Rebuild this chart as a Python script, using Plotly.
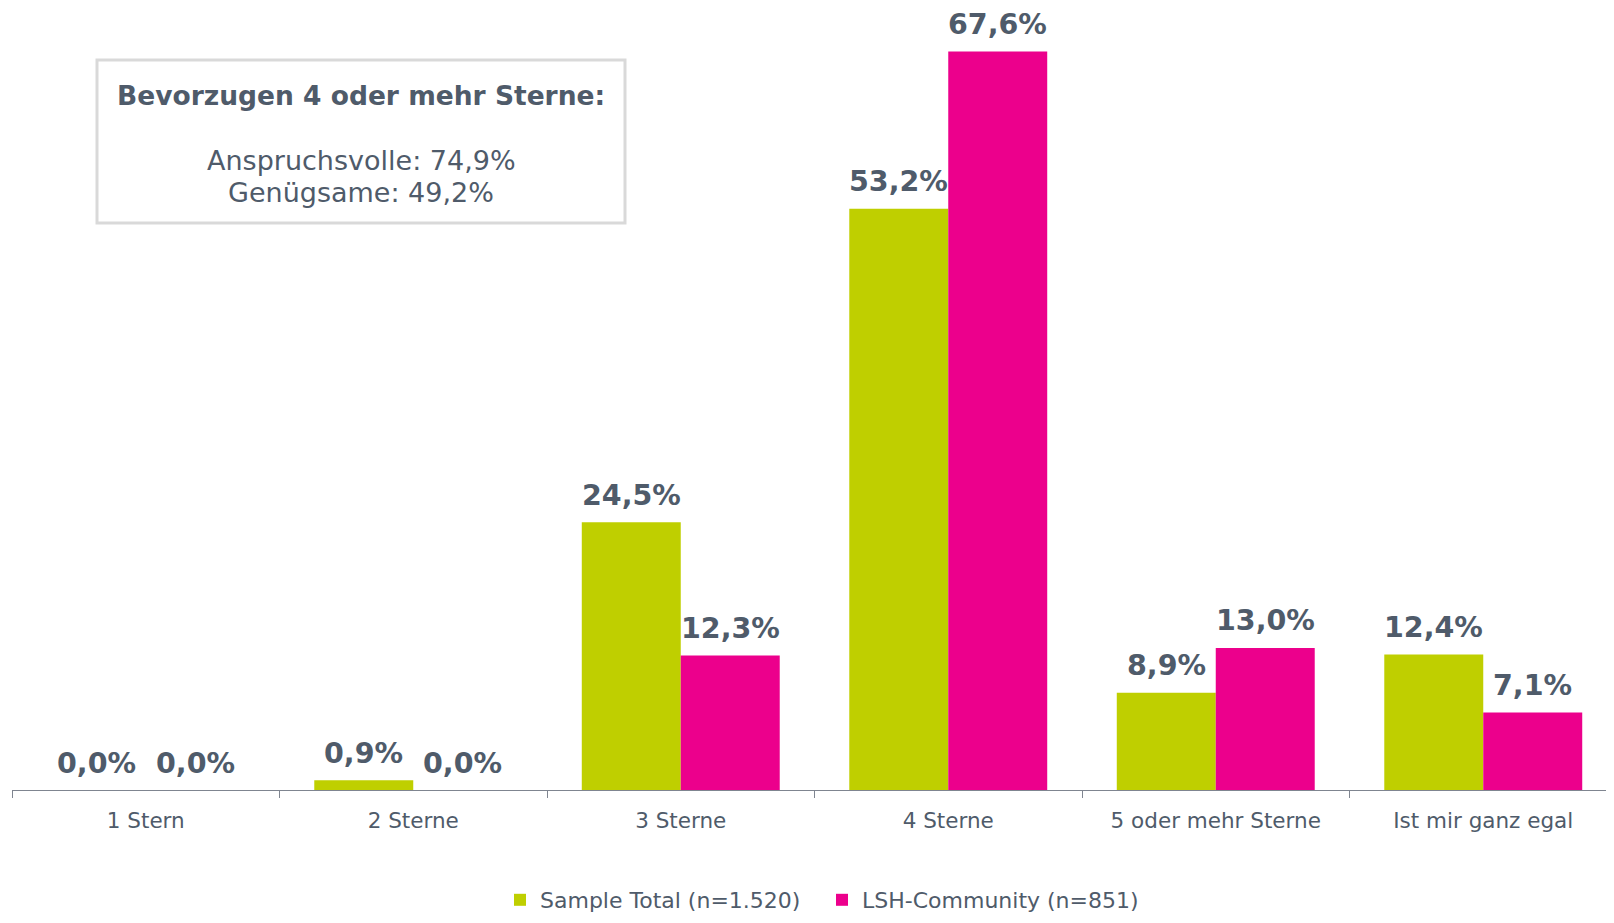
import plotly.graph_objects as go

categories = ["1 Stern", "2 Sterne", "3 Sterne", "4 Sterne", "5 oder mehr Sterne", "Ist mir ganz egal"]
sample_total = [0.0, 0.9, 24.5, 53.2, 8.9, 12.4]
lsh_community = [0.0, 0.0, 12.3, 67.6, 13.0, 7.1]
series_names = ["Sample Total (n=1.520)", "LSH-Community (n=851)"]
series_colors = ["#bfcf00", "#ec008c"]

TXT = "#4f5b6a"
FONT = "DejaVu Sans"
OFF = 8  # page body margin

def fmt(v):
    return f"{v:.1f}".replace(".", ",") + "%"

W, H = 1614 - 2 * OFF, 923 - 2 * OFF
L, R, T = 12 - OFF, 0, 0
B = H - (790 - OFF)
pw, ph = W - L - R, H - T - B
CAT_W = 267.5
XMAX = -0.5 + pw / CAT_W
BARGAP = 0.26
bar_w = CAT_W * (1 - BARGAP) / 2

def px(x):
    return (x - OFF - L) / pw

def py(y):
    return 1 - (y - OFF - T) / ph

fig = go.Figure()
annots = []
for i, (name, vals, col) in enumerate(zip(series_names, [sample_total, lsh_community], series_colors)):
    fig.add_trace(go.Bar(x=categories, y=vals, name=name, marker_color=col, marker_line_width=0))
    shift = (-0.5 if i == 0 else 0.5) * bar_w
    for c, v in zip(categories, vals):
        annots.append(dict(x=c, y=v, xref="x", yref="y", text=f"<b>{fmt(v)}</b>", showarrow=False,
                           xshift=shift, yshift=27, xanchor="center", yanchor="middle",
                           font=dict(family=FONT, size=28.5, color=TXT)))

annots += [
    dict(xref="paper", yref="paper", x=px(361), y=py(96), text="<b>Bevorzugen 4 oder mehr Sterne:</b>",
         showarrow=False, font=dict(family=FONT, size=26.5, color=TXT), xanchor="center", yanchor="middle"),
    dict(xref="paper", yref="paper", x=px(361), y=py(160), text="Anspruchsvolle: 74,9%",
         showarrow=False, font=dict(family=FONT, size=27, color=TXT), xanchor="center", yanchor="middle"),
    dict(xref="paper", yref="paper", x=px(361), y=py(192), text="Genügsame: 49,2%",
         showarrow=False, font=dict(family=FONT, size=27, color=TXT), xanchor="center", yanchor="middle"),
]

fig.update_layout(
    width=W, height=H,
    margin=dict(l=L, r=R, t=T, b=B, autoexpand=False),
    barmode="group", bargap=BARGAP, bargroupgap=0,
    plot_bgcolor="white", paper_bgcolor="white",
    font=dict(family=FONT, color=TXT),
    xaxis=dict(range=[-0.5, XMAX], showline=True, linecolor="#7f8590", linewidth=1,
               ticks="outside", tickson="boundaries", ticklen=7, tickcolor="#7f8590",
               ticklabelstandoff=11, automargin=False,
               tickfont=dict(family=FONT, size=21.5, color=TXT)),
    yaxis=dict(range=[0, ph / 10.925], visible=False, showgrid=False, zeroline=False),
    showlegend=True,
    legend=dict(orientation="h", x=px(822), xanchor="center", y=py(900), yanchor="middle",
                font=dict(family=FONT, size=22, color=TXT), itemwidth=30,
                entrywidth=277, traceorder="normal"),
    shapes=[dict(type="rect", xref="paper", yref="paper", layer="below",
                 x0=px(97), x1=px(625), y0=py(60), y1=py(223),
                 line=dict(color="#d9d9d9", width=3), fillcolor="white")],
    annotations=annots,
)

fig.write_html("out.html")
